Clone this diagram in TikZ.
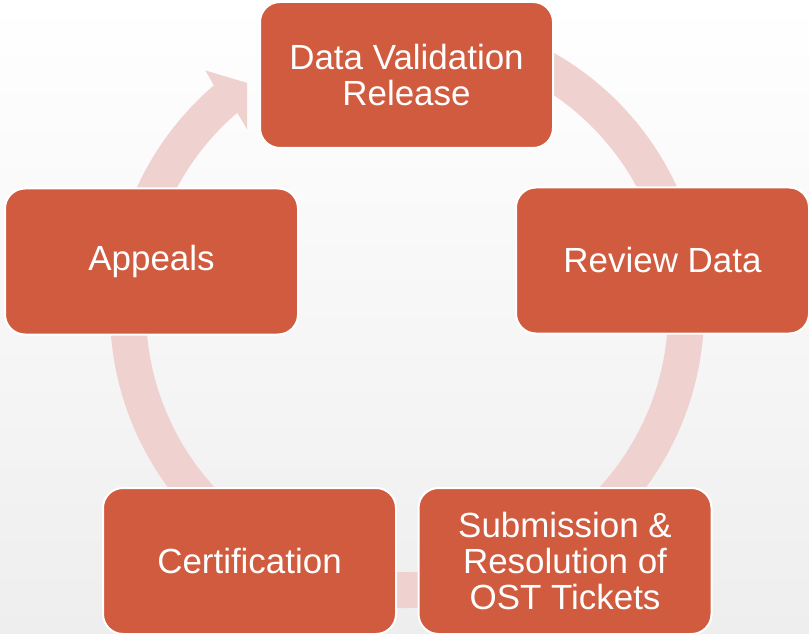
\documentclass[tikz,border=0pt]{standalone}
\usepackage{fontspec}
\setmainfont{Liberation Sans}
\usetikzlibrary{calc}
\definecolor{boxfill}{RGB}{209,91,62}
\definecolor{ringcol}{RGB}{239,209,207}
\definecolor{bgbot}{RGB}{238,238,238}
\begin{document}
\begin{tikzpicture}[x=0.75pt,y=-0.75pt,
  stagebox/.style={rectangle, rounded corners=15pt, fill=boxfill, draw=white, line width=1.5pt,
    minimum width=219.75pt, minimum height=109.5pt, inner sep=0pt, align=center,
    text=white, font=\fontsize{26.2}{27}\selectfont},
  ringstyle/.style={draw=ringcol, line width=27pt}]
% background
\shade[top color=white, middle color=white, bottom color=bgbot] (0,0) rectangle (809,634);
\useasboundingbox (0,0) rectangle (809,634);
% ring
\coordinate (C) at (407,311);
\draw[ringstyle] ($(C)+(460:209.25pt)$) arc[start angle=460, end angle=130.5, radius=209.25pt];
% arrow head, clipped
\begin{scope}
\clip (0,0) rectangle (247,634);
\fill[ringcol, draw=ringcol, line width=0.4pt] (214,85) -- (206,71) -- (290,96) -- (255,142) -- (237.5,112.5) -- cycle;
\end{scope}
% stages
\node[stagebox] (dvr) at (406.5,75) {Data Validation\\Release};
\node[stagebox] (rev) at (662.5,260.5) {Review Data};
\node[stagebox] (sub) at (565,561) {Submission \&\\Resolution of\\OST Tickets};
\node[stagebox] (cert) at (249.5,561) {Certification};
\node[stagebox] (app) at (151.5,261.5) {Appeals};
\end{tikzpicture}
\end{document}
